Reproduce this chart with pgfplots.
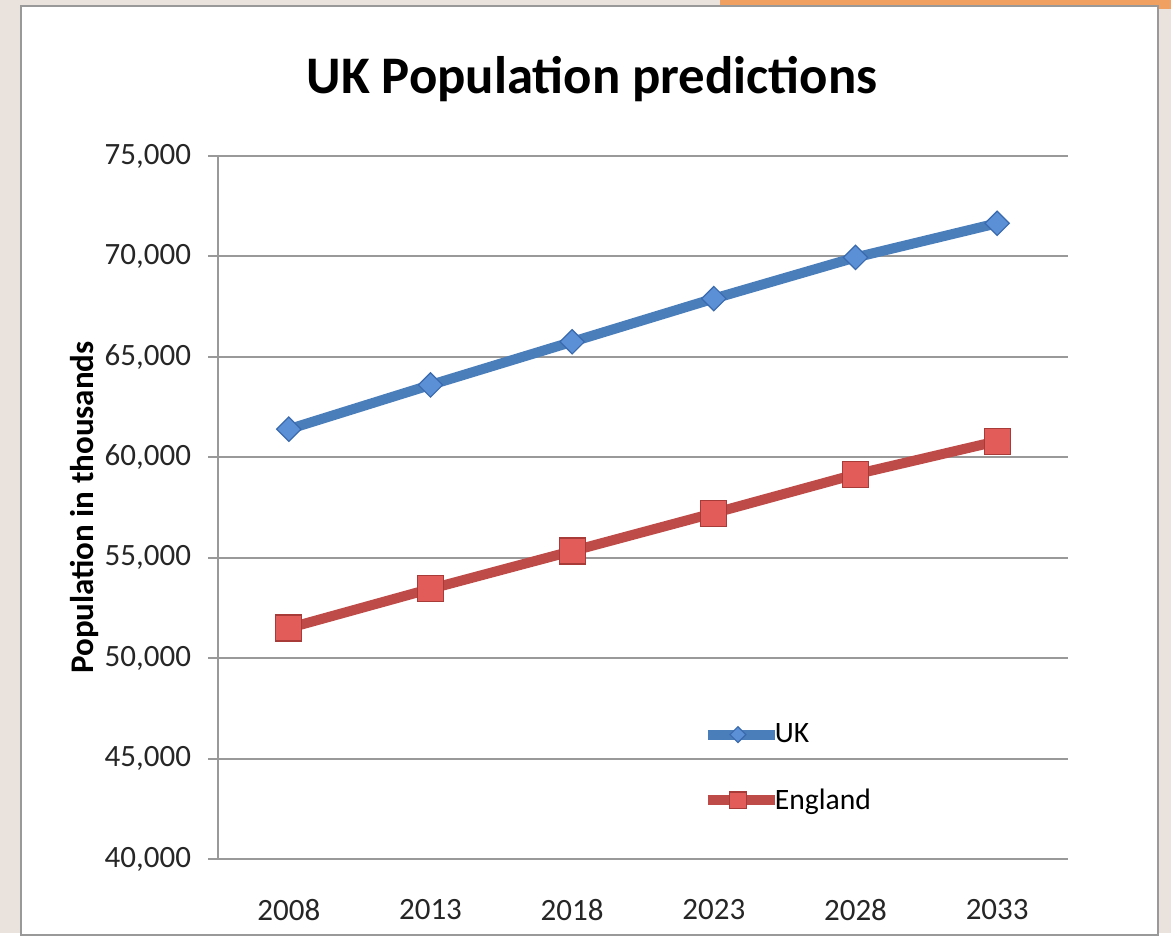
\documentclass[border=0pt]{standalone}
\usepackage{pgfplots}
\pgfplotsset{compat=1.18}
\usepackage{fontspec}
\setmainfont{Carlito}
\definecolor{ukline}{HTML}{4A7EBB}
\definecolor{ukfill}{HTML}{5B8FD6}
\definecolor{ukdraw}{HTML}{3A6AAE}
\definecolor{enline}{HTML}{BE4B48}
\definecolor{enfill}{HTML}{E25D5A}
\definecolor{endraw}{HTML}{A83A37}
\definecolor{bgcol}{HTML}{EAE2DC}
\definecolor{orng}{HTML}{F0A060}
\begin{document}
\begin{tikzpicture}
\fill[bgcol] (0,0) rectangle (585.5pt,466.5pt);
\fill[orng] (360pt,462pt) rectangle (585.5pt,466.5pt);
\filldraw[fill=white,draw=gray!80,line width=1pt] (10.5pt,-1pt) rectangle (579pt,463.5pt);
\begin{axis}[
  at={(109pt,37pt)}, anchor=south west,
  scale only axis, width=425pt, height=351.5pt,
  xmin=-0.5, xmax=5.5, ymin=40000, ymax=75000,
  xtick={0,1,2,3,4,5},
  xticklabels={2008,2013,2018,2023,2028,2033},
  ytick={40000,45000,50000,55000,60000,65000,70000,75000},
  axis x line*=bottom, axis y line*=left,
  axis line style={gray!80, line width=1pt},
  ymajorgrids, grid style={gray!80, line width=1pt},
  tick align=outside, major tick length=5pt,
  major x tick style={draw=none},
  major y tick style={gray!80, line width=1pt},
  ticklabel style={font=\fontsize{15.5}{18}\selectfont, text=black!85},
  /pgf/number format/assume math mode=true,
  yticklabel style={/pgf/number format/1000 sep={,}, anchor=east, xshift=-5pt},
  scaled y ticks=false,
  xticklabel style={anchor=center, yshift=-20.5pt},
  ylabel={Population in thousands},
  ylabel style={at={(axis description cs:-0.1565,0.5)}, anchor=center, font=\bfseries\fontsize{16.5}{18}\selectfont},
  title={UK Population predictions},
  title style={at={(axis description cs:0.44,1.092)}, anchor=center, font=\bfseries\fontsize{26.4}{30}\selectfont},
  legend style={draw=none, fill=none, at={(axis description cs:0.570,0.196)}, anchor=north west,
    font=\fontsize{14.8}{17}\selectfont, row sep=19.5pt, inner sep=0pt, nodes={inner sep=1pt}},
  legend cell align=left,
  legend image code/.code={%
    \draw[#1, every mark/.append style={scale=0.65}, mark repeat=2, mark phase=2] plot coordinates {(0pt,0pt) (15pt,0pt) (30pt,0pt)};
    \draw[#1, overlay, mark=none] (29pt,0pt) -- (33.5pt,0pt);},
]
\addplot[ukline, line width=5pt, mark=square*, mark size=4.3pt,
  mark options={rotate=45, fill=ukfill, draw=ukdraw, line width=0.6pt}]
  coordinates {(0,61400) (1,63600) (2,65750) (3,67900) (4,69950) (5,71650)};
\addlegendentry{UK}
\addplot[enline, line width=5pt, mark=square*, mark size=6.5pt,
  mark options={fill=enfill, draw=endraw, line width=0.6pt}]
  coordinates {(0,51500) (1,53450) (2,55330) (3,57220) (4,59150) (5,60800)};
\addlegendentry{England}
\end{axis}
\end{tikzpicture}
\end{document}
